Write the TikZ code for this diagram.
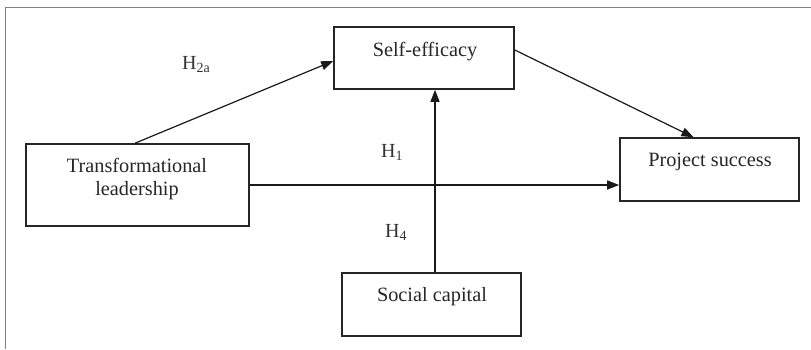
\documentclass[tikz,border=0pt]{standalone}
\usepackage{fontspec}
\setmainfont{Liberation Serif}
\usetikzlibrary{arrows.meta}
\begin{document}
\begin{tikzpicture}[x=1pt,y=-1pt,
  box/.style={draw=black!85, line width=1.6pt, minimum width=#1, inner sep=0pt},
  box/.default=180pt,
  txt/.style={inner sep=0pt, font=\fontsize{20.3}{23}\selectfont, text=black!85},
  lab/.style={inner sep=0pt, anchor=base west, font=\fontsize{20}{23}\selectfont, text=black!80},
  arr/.style={line width=1.2pt, draw=black!90, -{Triangle[length=12pt,width=9pt]}},
  conn/.style={line width=1.2pt, draw=black!90}]
\useasboundingbox (0,0) rectangle (811,349);
% outer frame
\draw[gray, line width=1pt] (5,349) -- (5,7) -- (811,7);
% boxes
\node[box=180pt, minimum height=62pt] (se) at (424,58) {};
\node[box=223pt, minimum height=82pt] (tl) at (137.5,185) {};
\node[box=179pt, minimum height=63pt] (ps) at (709.5,169.5) {};
\node[box=179pt, minimum height=63pt] (sc) at (431.5,304.5) {};
% box texts
\node[txt, anchor=base] (setext) at (425,56) {Self-efficacy};
\node[txt, anchor=north, align=center] (tltext) at (137,158) {Transformational\\leadership};
\node[txt, anchor=base] (pstext) at (710,166) {Project success};
\node[txt, anchor=base] (sctext) at (432,301) {Social capital};
% labels
\node[lab] (h2a) at (182,69) {H\textsubscript{2a}};
\node[lab] (h1) at (381,157) {H\textsubscript{1}};
\node[lab] (h4) at (385,237) {H\textsubscript{4}};
% connectors
\draw[arr] ([xshift=-2.5pt]tl.north) -- ([yshift=-3pt]se.west);
\draw[arr] ([yshift=8pt]se.east) -- ([xshift=-16pt]ps.north);
\draw[arr] (tl.east) -- (ps.west |- tl.east);
\draw[arr] ([xshift=3.5pt]sc.north) -- ([xshift=3.5pt]sc.north |- se.south);
\end{tikzpicture}
\end{document}
